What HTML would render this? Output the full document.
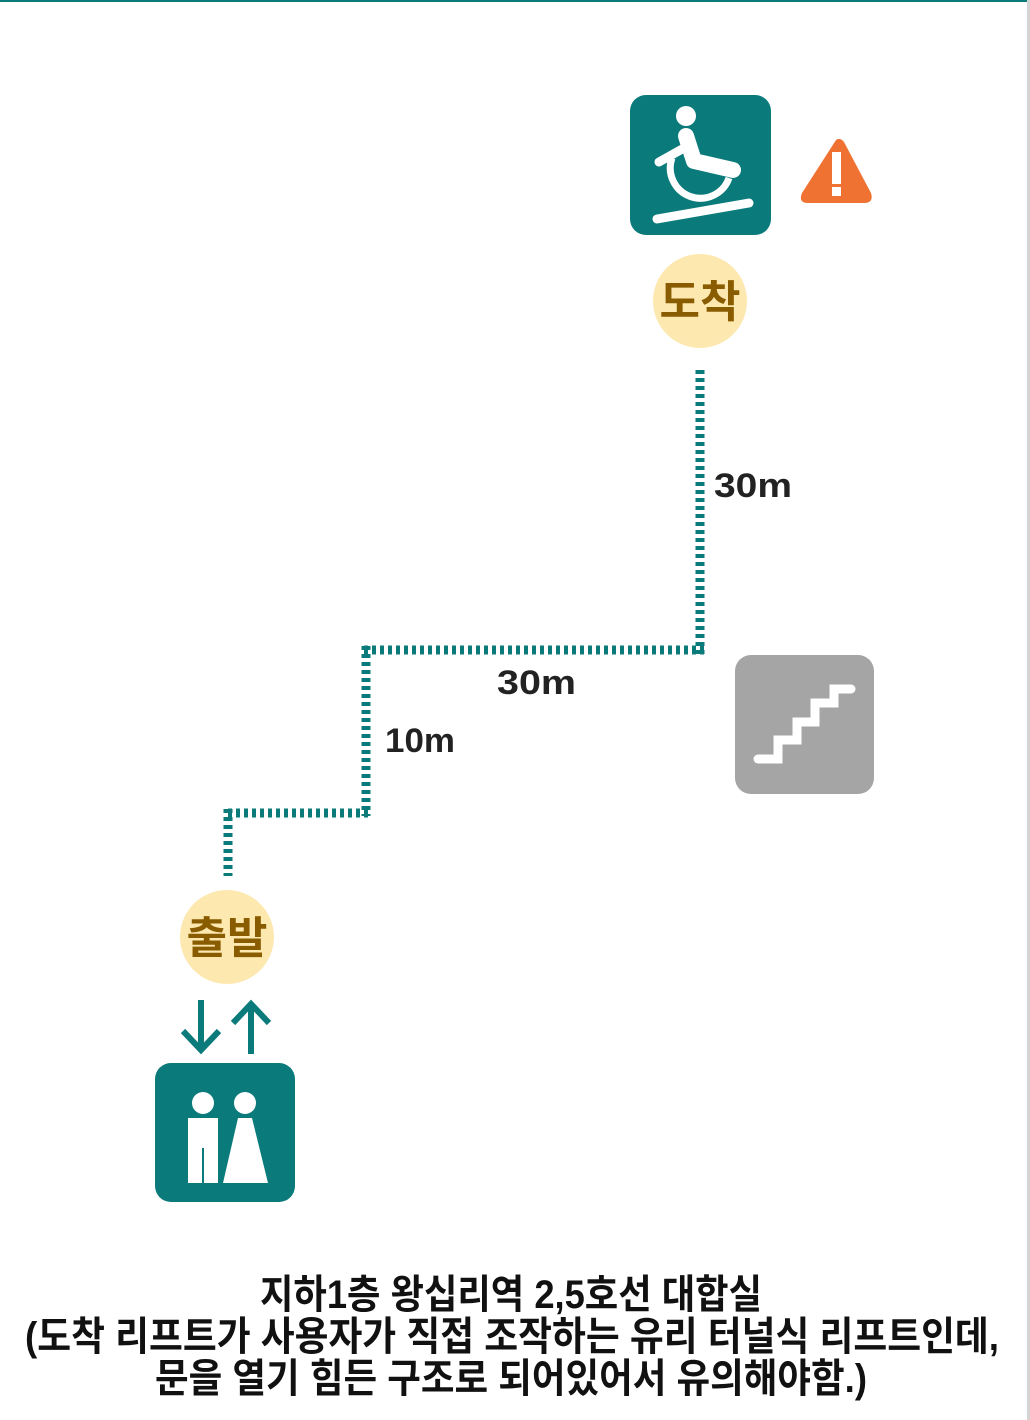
<!DOCTYPE html>
<html><head><meta charset="utf-8"><style>
html,body{margin:0;padding:0;background:#fff;}
svg{display:block;}
text{font-family:"Liberation Sans","Noto Sans CJK KR",sans-serif;}
</style></head><body>
<svg width="1030" height="1420" viewBox="0 0 1030 1420">
<rect x="0" y="0" width="1030" height="2" fill="#0b7a7a"/>
<rect x="1027" y="0" width="3" height="1420" fill="#d4d4d4"/>

<g fill="none" stroke="#0b7a7a" stroke-width="9" stroke-dasharray="4 4">
<line x1="700" y1="370" x2="700" y2="654"/>
<line x1="704" y1="650" x2="363" y2="650"/>
<line x1="366" y1="646" x2="366" y2="816"/>
<line x1="368" y1="813" x2="225" y2="813"/>
<line x1="228" y1="809" x2="228" y2="876"/>
</g>
<g font-weight="bold" font-size="34" fill="#222">
<text x="714" y="497" textLength="78" lengthAdjust="spacingAndGlyphs">30m</text>
<text x="497" y="694" textLength="79" lengthAdjust="spacingAndGlyphs">30m</text>
<text x="385" y="752" textLength="70" lengthAdjust="spacingAndGlyphs">10m</text>
</g>

<g>
<rect x="630" y="95" width="141" height="140" rx="16" fill="#0b7a7a"/>
<circle cx="686" cy="116" r="10" fill="#fff"/>
<path d="M686 136 L694 161 L733 170" stroke="#fff" stroke-width="16" stroke-linecap="round" stroke-linejoin="round" fill="none"/>
<path d="M684 148 L659 162" stroke="#fff" stroke-width="9" stroke-linecap="round"/>
<path d="M672 158 A29 29 0 1 0 729 178" stroke="#fff" stroke-width="7" fill="none"/>
<line x1="657" y1="219" x2="749" y2="203" stroke="#fff" stroke-width="9" stroke-linecap="round"/>
</g>
<g>
<path d="M836 140 Q840 137 844 142 L871 193 Q874 203 864 203 L808 203 Q798 203 802 193 Z" fill="#ef7232"/>
<rect x="832" y="152" width="9" height="32" fill="#fff"/>
<rect x="832" y="187" width="9" height="9" fill="#fff"/>
</g>

<g>
<circle cx="700" cy="301" r="47" fill="#fde8b0"/>
<text x="700" y="317" text-anchor="middle" font-size="44" font-weight="bold" fill="#8a5c00" font-family="'Noto Sans CJK KR',sans-serif">도착</text>
</g>
<g>
<circle cx="227" cy="937" r="47" fill="#fde8b0"/>
<text x="227" y="953" text-anchor="middle" font-size="44" font-weight="bold" fill="#8a5c00" font-family="'Noto Sans CJK KR',sans-serif">출발</text>
</g>

<g stroke="#0b7a7a" stroke-width="6" fill="none">
<path d="M201 1000 L201 1050 M183 1031 L201 1050 L219 1031"/>
<path d="M251 1054 L251 1004 M233 1023 L251 1004 L269 1023"/>
</g>
<g>
<rect x="155" y="1063" width="140" height="139" rx="16" fill="#0b7a7a"/>
<circle cx="203" cy="1103" r="11" fill="#fff"/>
<circle cx="245" cy="1103" r="11" fill="#fff"/>
<rect x="188" y="1118" width="30" height="65" fill="#fff"/>
<line x1="203" y1="1148" x2="203" y2="1183" stroke="#0b7a7a" stroke-width="2"/>
<path d="M238 1118 L252 1118 L268 1183 L223 1183 Z" fill="#fff"/>
</g>

<g>
<rect x="735" y="655" width="139" height="139" rx="16" fill="#a5a5a5"/>
<path d="M758 759 L778 759 L778 740 L797 740 L797 722 L815 722 L815 703 L834 703 L834 689 L851 689" stroke="#fff" stroke-width="9" fill="none" stroke-linecap="round"/>
</g>

<g font-size="40" font-weight="bold" fill="#111" text-anchor="middle" font-family="'Noto Sans CJK KR',sans-serif">
<text x="511" y="1308" textLength="502" lengthAdjust="spacingAndGlyphs">지하1층 왕십리역 2,5호선 대합실</text>
<text x="512" y="1350" textLength="974" lengthAdjust="spacingAndGlyphs">(도착 리프트가 사용자가 직접 조작하는 유리 터널식 리프트인데,</text>
<text x="511" y="1392" textLength="712" lengthAdjust="spacingAndGlyphs">문을 열기 힘든 구조로 되어있어서 유의해야함.)</text>
</g>
</svg>
</body></html>
